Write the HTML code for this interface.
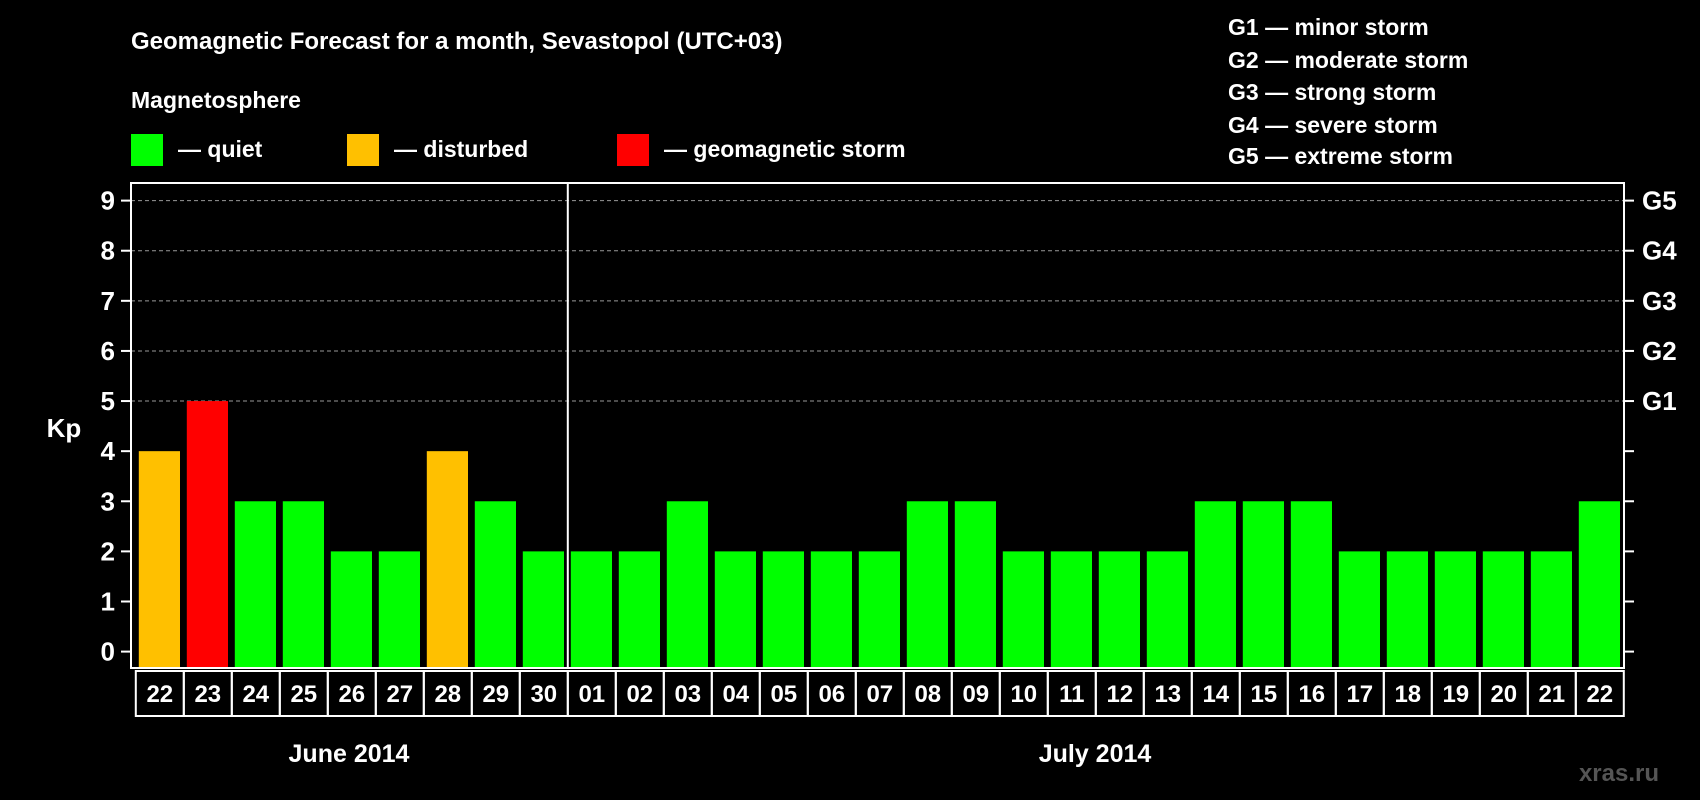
<!DOCTYPE html>
<html><head><meta charset="utf-8"><style>
html,body{margin:0;padding:0;background:#000;}
svg{display:block;font-family:"Liberation Sans",Arial,sans-serif;font-weight:bold;}
</style></head><body>
<svg id="chart" width="1700" height="800" viewBox="0 0 1700 800">
<text x="131" y="49" fill="#fff" font-size="24">Geomagnetic Forecast for a month, Sevastopol (UTC+03)</text>
<text x="131" y="108" fill="#fff" font-size="23">Magnetosphere</text>
<g><rect x="131" y="134" width="32" height="32" fill="#00ff00"/><text x="178" y="157" fill="#fff" font-size="23">— quiet</text></g>
<g><rect x="347" y="134" width="32" height="32" fill="#ffc000"/><text x="394" y="157" fill="#fff" font-size="23">— disturbed</text></g>
<g><rect x="617" y="134" width="32" height="32" fill="#ff0000"/><text x="664" y="157" fill="#fff" font-size="23">— geomagnetic storm</text></g>
<g fill="#fff" font-size="23">
<text x="1228" y="35">G1 — minor storm</text>
<text x="1228" y="68">G2 — moderate storm</text>
<text x="1228" y="100">G3 — strong storm</text>
<text x="1228" y="133">G4 — severe storm</text>
<text x="1228" y="164">G5 — extreme storm</text>
</g>
<text x="64" y="437" fill="#fff" font-size="26" text-anchor="middle">Kp</text>
<g id="grid"></g><g id="bars"></g><g id="axes"></g>
<text x="349" y="762" fill="#fff" font-size="25" text-anchor="middle">June 2014</text>
<text x="1095" y="762" fill="#fff" font-size="25" text-anchor="middle">July 2014</text>
<text x="1659" y="781" fill="#555" font-size="24" text-anchor="end">xras.ru</text>
</svg>
<script>
const days = ["22","23","24","25","26","27","28","29","30","01","02","03","04","05","06","07","08","09","10","11","12","13","14","15","16","17","18","19","20","21","22"];
const kp = [4,5,3,3,2,2,4,3,2,2,2,3,2,2,2,2,3,3,2,2,2,2,3,3,3,2,2,2,2,2,3];
const yTicks = [0,1,2,3,4,5,6,7,8,9];
const gLabels = ["G1","G2","G3","G4","G5"];
const gLevels = [5,6,7,8,9];
const NS="http://www.w3.org/2000/svg";
const L=131, R=1624, T=183, B=668, y0=651.6, unit=50.11, slot0=135.8, slotW=48.0;
function y(v){return y0 - v*unit;}
function x(i){return slot0 + i*slotW;}
function mk(tag, attrs, parent){const e=document.createElementNS(NS,tag);for(const k in attrs)e.setAttribute(k,attrs[k]);parent.appendChild(e);return e;}
const grid=document.getElementById('grid'), bars=document.getElementById('bars'), axes=document.getElementById('axes');
gLevels.forEach((v)=>{
  const l=mk('line',{x1:L,x2:R,y1:y(v),y2:y(v),stroke:'#999','stroke-width':1,'stroke-dasharray':'4,3'},grid);
  
  
});
kp.forEach((v,i)=>{
  const c = v>=5?'#ff0000':(v>=4?'#ffc000':'#00ff00');
  const r=mk('rect',{x:x(i)+3,y:y(v),width:slotW-6.8,height:B-1-y(v),fill:c},bars);
  
  
});
// frame
const fr=mk('rect',{x:L,y:T,width:R-L,height:B-T,fill:'none',stroke:'#fff','stroke-width':2},axes);


const dv=mk('line',{x1:x(9),x2:x(9),y1:T,y2:B,stroke:'#fff','stroke-width':2},axes);


yTicks.forEach(v=>{
  mk('line',{x1:L-10,x2:L,y1:y(v),y2:y(v),stroke:'#fff','stroke-width':2},axes);
  mk('line',{x1:R,x2:R+10,y1:y(v),y2:y(v),stroke:'#fff','stroke-width':2},axes);
  const t=mk('text',{x:L-16,y:y(v)+9,fill:'#fff','font-size':26,'text-anchor':'end'},axes);
  t.textContent=v;
  
  
});
gLabels.forEach((g,i)=>{
  const t=mk('text',{x:R+18,y:y(gLevels[i])+9,fill:'#fff','font-size':26},axes);
  t.textContent=g;
  
  
});
days.forEach((d,i)=>{
  const b=mk('rect',{x:x(i),y:B+3,width:slotW,height:45,fill:'none',stroke:'#fff','stroke-width':2},axes);
  
  
  const t=mk('text',{x:x(i)+slotW/2,y:B+34,fill:'#fff','font-size':24,'text-anchor':'middle'},axes);
  t.textContent=d;
  
  
});
</script>
</body></html>
